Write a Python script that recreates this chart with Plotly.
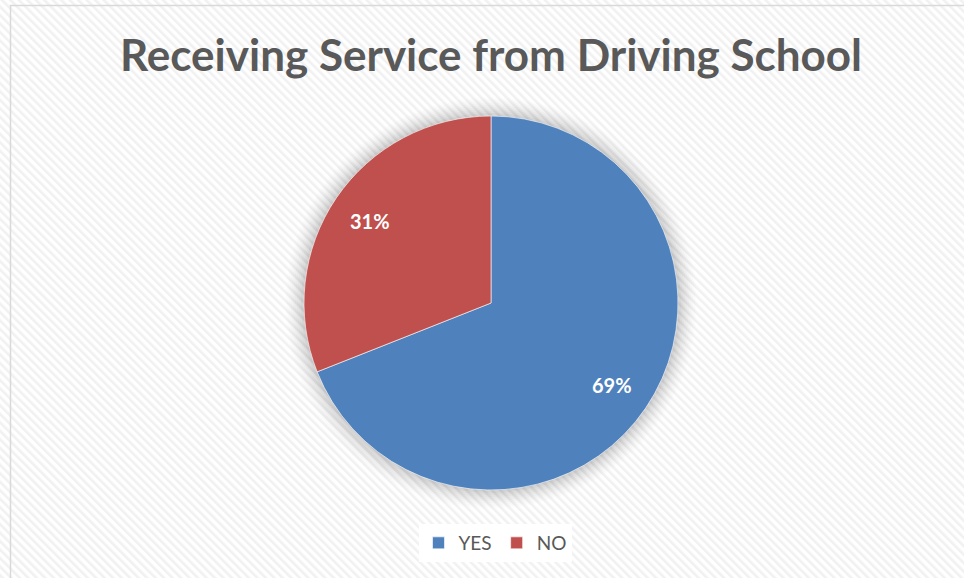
import base64
import math
import plotly.graph_objects as go

# Survey answers: share of respondents receiving service from a driving school
labels = ["YES", "NO"]
values = [69, 31]
colors = ["#4F81BD", "#C0504D"]
title_text = "Receiving Service from Driving School"

W, H = 964, 578

# faint diagonal hatch used as the chart background
svg = (
    f'<svg xmlns="http://www.w3.org/2000/svg" width="{W}" height="{H}">'
    '<defs><pattern id="p" width="6" height="6" patternUnits="userSpaceOnUse" '
    'patternTransform="rotate(-45)">'
    '<rect width="6" height="6" fill="#ffffff"/>'
    '<rect width="2.6" height="6" fill="#f1f1f1"/>'
    '</pattern></defs>'
    '<rect width="100%" height="100%" fill="url(#p)"/></svg>'
)
bg_uri = "data:image/svg+xml;base64," + base64.b64encode(svg.encode()).decode()

# pie placement (pixels -> paper fractions)
cxp, cyp, r = 491, 303, 187
cx, cy = cxp / W, 1 - cyp / H
dom_x = [(cxp - r) / W, (cxp + r) / W]
dom_y = [1 - (cyp + r) / H, 1 - (cyp - r) / H]

fig = go.Figure(
    go.Pie(
        labels=labels,
        values=values,
        sort=False,
        direction="clockwise",
        rotation=0,
        marker=dict(colors=colors, line=dict(color="rgba(255,255,255,0.6)", width=1)),
        textinfo="none",
        hoverinfo="label+percent",
        domain=dict(x=dom_x, y=dom_y),
    )
)

# percentage labels placed along each slice's bisector
total = sum(values)
annotations = []
start = 0.0
for lab, v in zip(labels, values):
    mid = (start + v / 2) / total * 2 * math.pi  # clockwise from 12 o'clock
    start += v
    rr = 0.78 * r
    annotations.append(
        dict(
            text=f"{round(v / total * 100)}%",
            xref="paper", yref="paper",
            x=cx + rr * math.sin(mid) / W,
            y=cy + rr * math.cos(mid) / H,
            showarrow=False,
            font=dict(family="Lato", size=20, color="white", weight="bold"),
        )
    )

# soft shadow ring around the pie
shapes = []
for i, op in enumerate([0.03, 0.03, 0.025, 0.025, 0.02, 0.02, 0.015, 0.012, 0.01, 0.008]):
    rr = r + 1 + i * 2
    shapes.append(
        dict(
            type="circle", xref="paper", yref="paper", layer="below",
            x0=cx - rr / W, x1=cx + rr / W, y0=cy - rr / H, y1=cy + rr / H,
            fillcolor=f"rgba(0,0,0,{op})", line=dict(width=0),
        )
    )
# chart area border (top and left edges visible)
shapes.append(
    dict(
        type="rect", xref="paper", yref="paper", layer="above",
        x0=10.5 / W, x1=1.01, y0=-0.01, y1=1 - 5.5 / H,
        line=dict(color="#d9d9d9", width=1.5), fillcolor="rgba(0,0,0,0)",
    )
)

fig.update_layout(
    width=W,
    height=H,
    margin=dict(l=0, r=0, t=0, b=0),
    paper_bgcolor="white",
    title=dict(
        text=title_text,
        x=491 / W, xanchor="center",
        y=1 - 56 / H, yanchor="middle",
        font=dict(family="Lato", size=44, color="#595959", weight="bold"),
    ),
    showlegend=True,
    legend=dict(
        orientation="h",
        x=495 / W, xanchor="center",
        y=1 - 543 / H, yanchor="middle",
        font=dict(family="Lato", size=19, color="#595959"),
        bgcolor="white",
        itemwidth=30,
        tracegroupgap=0,
    ),
    annotations=annotations,
    images=[
        dict(
            source=bg_uri, xref="paper", yref="paper", x=0, y=1,
            sizex=1, sizey=1, sizing="stretch", layer="below",
        )
    ],
    shapes=shapes,
)

fig.write_html("out.html")
